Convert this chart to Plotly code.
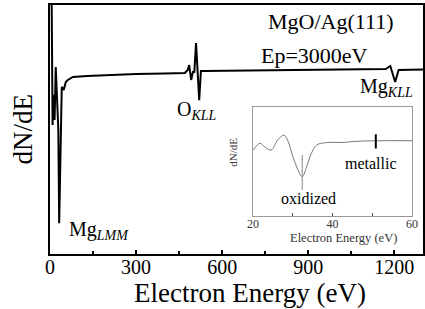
import plotly.graph_objects as go

# Main spectrum (Electron energy in eV, dN/dE in arbitrary units)
energy = [5, 9, 12, 16, 20, 26, 29, 32, 36, 41, 48, 55, 62, 80, 130, 200, 300, 400,
          470, 480, 485, 492, 498, 503, 509, 520, 526, 535, 700, 900, 1100, 1170,
          1186, 1203, 1215, 1300]
dnde = [114, 51.8, 63.9, 53.8, 75.1, 57.8, 50.0, 12.4, 45.8, 67.1, 65.9, 69.1, 69.9,
        71.1, 71.5, 71.9, 72.3, 72.5, 72.7, 73.9, 75.9, 69.9, 73.1, 73.1, 84.7, 61.8,
        73.5, 73.5, 73.7, 73.9, 74.1, 74.3, 75.5, 69.1, 73.9, 74.1]

# Inset: Mg LMM region
inset_energy = [20.1, 21.8, 23.0, 24.6, 26.2, 27.8, 28.7, 30.5, 32.4, 33.5, 34.7, 36.0,
                38.0, 39.7, 43.0, 45.7, 51.4, 60.0]
inset_dnde = [60.6, 66.7, 63.3, 60.6, 69.7, 74.3, 69.7, 49.8, 36.1, 45.2, 57.5, 65.1,
              67.2, 67.6, 67.6, 68.5, 69.1, 69.1]

main_ticks = [0, 300, 600, 900, 1200]
inset_ticks = [20, 40, 60]

FONT = "Liberation Serif"

fig = go.Figure()
fig.add_trace(go.Scatter(x=energy, y=dnde, mode="lines",
                         line=dict(color="black", width=2), xaxis="x", yaxis="y",
                         showlegend=False))
fig.add_trace(go.Scatter(x=inset_energy, y=inset_dnde, mode="lines",
                         line=dict(color="#777777", width=1, shape="spline"),
                         xaxis="x2", yaxis="y2", showlegend=False))
# markers in inset
fig.add_trace(go.Scatter(x=[32.4, 32.4], y=[56, 24], mode="lines",
                         line=dict(color="#888888", width=1), xaxis="x2", yaxis="y2",
                         showlegend=False))
fig.add_trace(go.Scatter(x=[50.9, 50.9], y=[75, 62], mode="lines",
                         line=dict(color="black", width=2), xaxis="x2", yaxis="y2",
                         showlegend=False))

fig.update_layout(
    width=425, height=309,
    margin=dict(l=50, r=2, t=5, b=55, autoexpand=False),
    paper_bgcolor="white", plot_bgcolor="white",
    font=dict(family=FONT, color="black"),
    xaxis=dict(range=[0, 1300], tickvals=main_ticks, ticks="inside", ticklen=4,
               tickwidth=2, tickcolor="black", showline=True, linecolor="black",
               linewidth=2, mirror=True, showgrid=False, zeroline=False,
               automargin=False, ticklabelstandoff=-6,
               tickfont=dict(family=FONT, size=20, color="black"),
               minor=dict(ticks="inside", dtick=150, ticklen=3, tickwidth=2,
                          tickcolor="black")),
    yaxis=dict(range=[0, 100], showticklabels=False, ticks="", showline=True,
               linecolor="black", linewidth=2, mirror=True, showgrid=False,
               zeroline=False, automargin=False),
    xaxis2=dict(domain=[0.544, 0.9705], anchor="y2", range=[20, 60],
                tickvals=inset_ticks, ticks="inside", ticklen=3, tickcolor="#555555",
                showline=True, linecolor="#999999", linewidth=1, mirror=True,
                showgrid=False, zeroline=False, automargin=False,
                ticklabelstandoff=-3,
                tickfont=dict(family=FONT, size=12, color="#333333"),
                minor=dict(ticks="inside", dtick=10, ticklen=3, tickcolor="#555555")),
    yaxis2=dict(domain=[0.1526, 0.590], anchor="x2", range=[0, 100],
                showticklabels=False, ticks="", showline=True, linecolor="#999999",
                linewidth=1, mirror=True, showgrid=False, zeroline=False,
                automargin=False),
)

def label(text, x, y, size, xref="paper", yref="paper", xanchor="center",
          angle=0, color="black"):
    return dict(text=text, xref=xref, yref=yref, x=x, y=y, xanchor=xanchor,
                yanchor="middle", textangle=angle, showarrow=False,
                font=dict(size=size, color=color))

ann = [
    label("dN/dE", -0.075, 0.5, 27, angle=-90),
    label("Electron Energy (eV)", 0.536, -0.157, 27),
    label("MgO/Ag(111)", 1203, 93.2, 22, "x", "y", "right"),
    label("Ep=3000eV", 1116, 79.9, 22, "x", "y", "right"),
    label("Mg<sub><i>LMM</i></sub>", 59, 9.6, 20, "x", "y", "left"),
    label("O<sub><i>KLL</i></sub>", 436, 57.8, 20, "x", "y", "left"),
    label("Mg<sub><i>KLL</i></sub>", 1074, 66.7, 20, "x", "y", "left"),
    label("oxidized", 34.1, 16.5, 16, "x2", "y2"),
    label("metallic", 49.8, 48.6, 16, "x2", "y2"),
    label("Electron Energy (eV)", 0.788, 0.066, 12.5, color="#333333"),
    label("dN/dE", 0.49, 0.41, 11, angle=-90, color="#333333"),
]
fig.update_layout(annotations=ann)

fig.write_html("out.html", config={"displayModeBar": False},
               post_script="document.body.style.margin='0px';")
